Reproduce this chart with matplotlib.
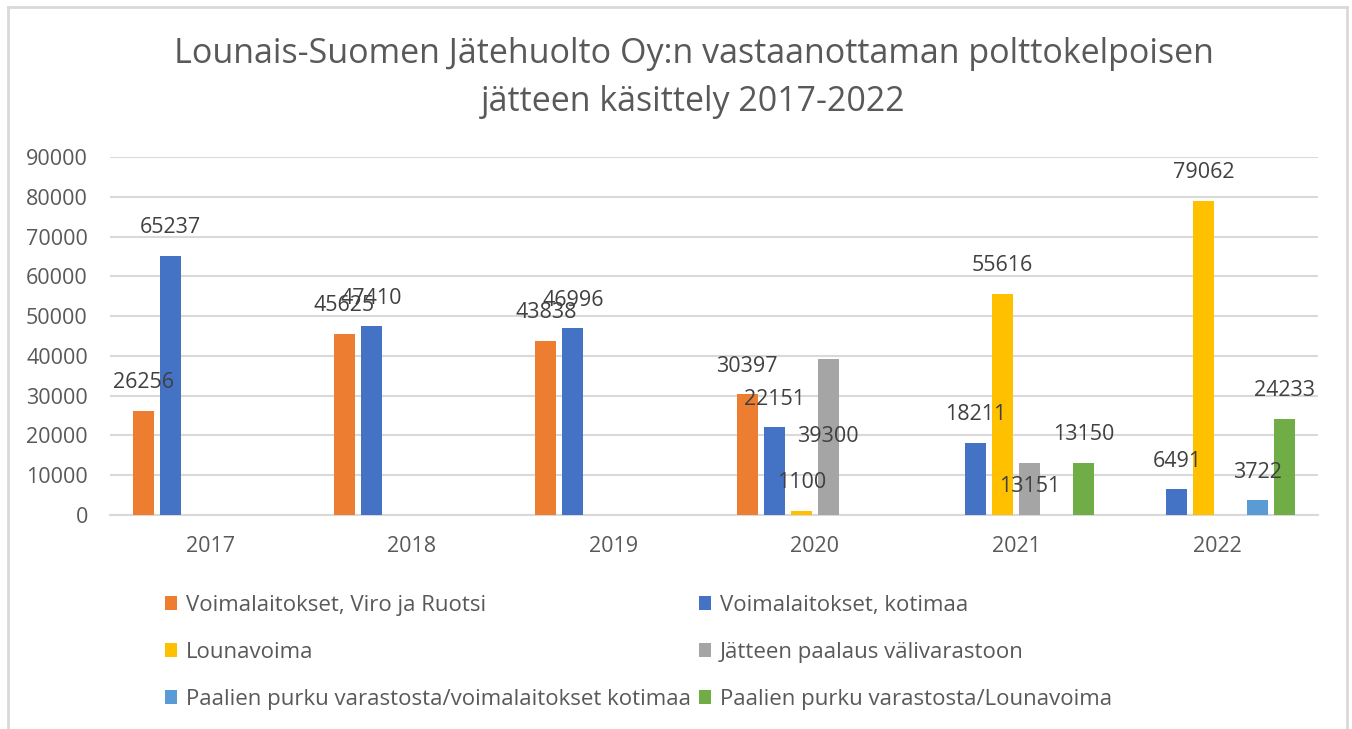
import numpy as np
import matplotlib
matplotlib.use("Agg")
import matplotlib.pyplot as plt
from matplotlib.patches import Patch
from matplotlib.lines import Line2D

# ===== data =====
years = ["2017", "2018", "2019", "2020", "2021", "2022"]
series_names = [
    "Voimalaitokset, Viro ja Ruotsi",
    "Voimalaitokset, kotimaa",
    "Lounavoima",
    "Jätteen paalaus välivarastoon",
    "Paalien purku varastosta/voimalaitokset kotimaa",
    "Paalien purku varastosta/Lounavoima",
]
viro_ruotsi = [26256, 45625, 43838, 30397, None, None]
kotimaa = [65237, 47410, 46996, 22151, 18211, 6491]
lounavoima = [None, None, None, 1100, 55616, 79062]
paalaus = [None, None, None, 39300, 13151, None]
purku_kotimaa = [None, None, None, None, None, 3722]
purku_lounavoima = [None, None, None, None, 13150, 24233]

colors = ["#ED7D31", "#4472C4", "#FFC000", "#A5A5A5", "#5B9BD5", "#70AD47"]
TXT = "#595959"
FONT = ["Open Sans", "DejaVu Sans"]
plt.rcParams["font.family"] = FONT

all_series = [viro_ruotsi, kotimaa, lounavoima, paalaus, purku_kotimaa, purku_lounavoima]

fig = plt.figure(figsize=(13.52, 7.29), dpi=100)
ax = fig.add_axes([110 / 1352, 1 - 515 / 729, 1208 / 1352, 358 / 729])

x = np.arange(len(years))
slot = 0.134
width = 0.105

# label offsets (points) - Excel moved two labels
label_off = {(3, 3): -56, (3, 4): -17}

for i, vals in enumerate(all_series):
    for j, v in enumerate(vals):
        if v is None:
            continue
        xpos = x[j] + (i - 2.5) * slot
        ax.bar(xpos, v, width=width, color=colors[i], zorder=3)
        dy = label_off.get((i, j), 20)
        ax.annotate(str(v), (xpos, v), xytext=(0, dy), textcoords="offset points",
                    ha="center", va="center", fontsize=15.5, color="#404040", zorder=4)

ax.set_xlim(-0.5, len(years) - 0.5)
ax.set_ylim(0, 90000)
ax.set_yticks(np.arange(0, 90001, 10000))
ax.set_xticks(x)
ax.set_xticklabels(years)
ax.tick_params(axis="both", length=0, labelsize=15.5, colors=TXT)
ax.tick_params(axis="x", pad=15)
ax.tick_params(axis="y", pad=16)
ax.grid(axis="y", color="#D9D9D9", linewidth=1.5, zorder=0)
for s in ["top", "right", "left"]:
    ax.spines[s].set_visible(False)
ax.spines["bottom"].set_color("#D9D9D9")
ax.spines["bottom"].set_linewidth(1.5)

fig.text(0.513, 1 - 78 / 729, "Lounais-Suomen Jätehuolto Oy:n vastaanottaman polttokelpoisen\njätteen käsittely 2017-2022",
         ha="center", va="center", fontsize=24.5, color=TXT, linespacing=1.55)

# legend, row-wise order
order = [0, 2, 4, 1, 3, 5]
handles = [Patch(facecolor=colors[k], label=series_names[k]) for k in order]
fig.legend(handles=handles, loc="upper left", bbox_to_anchor=(156 / 1352, 1 - 586 / 729),
           ncol=2, frameon=False, fontsize=16, labelcolor=TXT,
           handlelength=0.54, handleheight=0.54, handletextpad=0.4,
           labelspacing=1.17, columnspacing=0.36, borderaxespad=0.0)

# chart border
bc = "#D9D9D9"
fig.add_artist(Line2D([8 / 1352, 8 / 1352], [0, 1 - 7 / 729], transform=fig.transFigure, color=bc, lw=2))
fig.add_artist(Line2D([1347 / 1352, 1347 / 1352], [0, 1 - 7 / 729], transform=fig.transFigure, color=bc, lw=2))
fig.add_artist(Line2D([8 / 1352, 1347 / 1352], [1 - 7 / 729, 1 - 7 / 729], transform=fig.transFigure, color=bc, lw=2))

plt.savefig("out.png", dpi=100)
